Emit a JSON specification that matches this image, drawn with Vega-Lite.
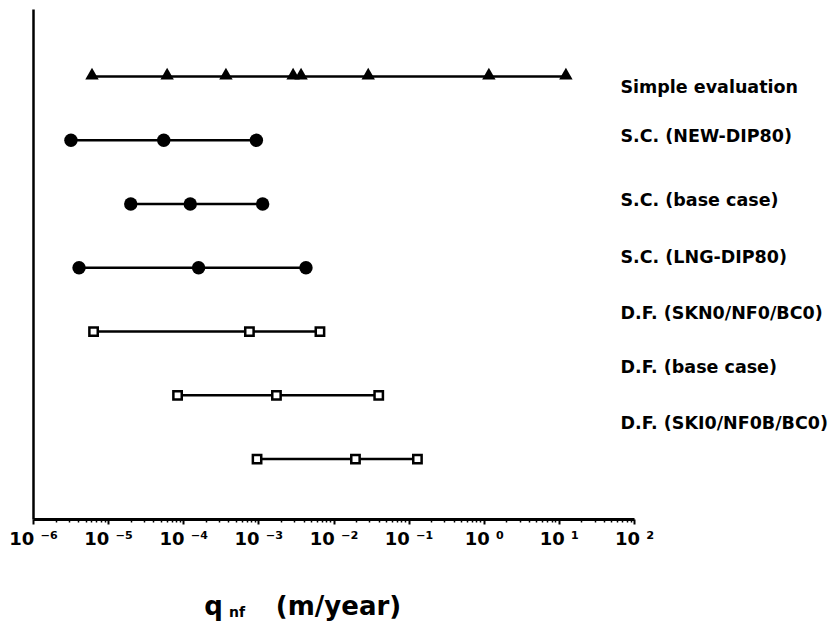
{
  "$schema": "https://vega.github.io/schema/vega-lite/v6.json",
  "width": 601,
  "height": 510,
  "autosize": "none",
  "padding": {"left": 33, "top": 9, "right": 201, "bottom": 108},
  "background": "white",
  "config": {
    "view": {"stroke": null},
    "font": "DejaVu Sans",
    "title": {"font": "DejaVu Sans", "fontWeight": "bold", "color": "black"}
  },
  "title": {
    "text": "nf",
    "orient": "bottom",
    "anchor": "start",
    "frame": "group",
    "dx": 196,
    "offset": -14,
    "fontSize": 14
  },
  "data": {
    "values": [
      {"row": "Simple evaluation", "method": "Simple", "q": 6.1e-6},
      {"row": "Simple evaluation", "method": "Simple", "q": 6.1e-5},
      {"row": "Simple evaluation", "method": "Simple", "q": 3.7e-4},
      {"row": "Simple evaluation", "method": "Simple", "q": 2.9e-3},
      {"row": "Simple evaluation", "method": "Simple", "q": 3.7e-3},
      {"row": "Simple evaluation", "method": "Simple", "q": 2.9e-2},
      {"row": "Simple evaluation", "method": "Simple", "q": 1.17},
      {"row": "Simple evaluation", "method": "Simple", "q": 12.4},
      {"row": "S.C. (NEW-DIP80)", "method": "S.C.", "q": 3.2e-6},
      {"row": "S.C. (NEW-DIP80)", "method": "S.C.", "q": 5.5e-5},
      {"row": "S.C. (NEW-DIP80)", "method": "S.C.", "q": 9.4e-4},
      {"row": "S.C. (base case)", "method": "S.C.", "q": 2.0e-5},
      {"row": "S.C. (base case)", "method": "S.C.", "q": 1.24e-4},
      {"row": "S.C. (base case)", "method": "S.C.", "q": 1.14e-3},
      {"row": "S.C. (LNG-DIP80)", "method": "S.C.", "q": 4.1e-6},
      {"row": "S.C. (LNG-DIP80)", "method": "S.C.", "q": 1.6e-4},
      {"row": "S.C. (LNG-DIP80)", "method": "S.C.", "q": 4.3e-3},
      {"row": "D.F. (SKN0/NF0/BC0)", "method": "D.F.", "q": 6.4e-6},
      {"row": "D.F. (SKN0/NF0/BC0)", "method": "D.F.", "q": 7.6e-4},
      {"row": "D.F. (SKN0/NF0/BC0)", "method": "D.F.", "q": 6.6e-3},
      {"row": "D.F. (base case)", "method": "D.F.", "q": 8.4e-5},
      {"row": "D.F. (base case)", "method": "D.F.", "q": 1.74e-3},
      {"row": "D.F. (base case)", "method": "D.F.", "q": 4.0e-2},
      {"row": "D.F. (SKI0/NF0B/BC0)", "method": "D.F.", "q": 9.6e-4},
      {"row": "D.F. (SKI0/NF0B/BC0)", "method": "D.F.", "q": 1.96e-2},
      {"row": "D.F. (SKI0/NF0B/BC0)", "method": "D.F.", "q": 0.131}
    ]
  },
  "resolve": {
    "axis": {"x": "independent", "y": "independent"}
  },
  "layer": [
    {
      "transform": [
        {"aggregate": [{"op": "min", "field": "q", "as": "lo"}, {"op": "max", "field": "q", "as": "hi"}], "groupby": ["row", "method"]}
      ],
      "mark": {"type": "rule", "color": "black"},
      "encoding": {
        "x": {
          "field": "lo",
          "type": "quantitative",
          "scale": {"type": "log", "domain": [1e-6, 100], "nice": false},
          "axis": {
            "orient": "bottom",
            "values": [1e-6, 1e-5, 1e-4, 1e-3, 1e-2, 1e-1, 1, 10, 100],
            "labelExpr": "['10 ⁻⁶','10 ⁻⁵','10 ⁻⁴','10 ⁻³','10 ⁻²','10 ⁻¹','10 ⁰','10 ¹','10 ²'][round(log(datum.value)/LN10)+6]",
            "domainColor": "black",
            "domainWidth": 3,
            "tickColor": "black",
            "tickWidth": 2,
            "tickSize": 5,
            "labelColor": "black",
            "labelFont": "DejaVu Sans",
            "labelFontWeight": "bold",
            "labelFontSize": 18,
            "labelPadding": 6,
            "labelFlush": false,
            "labelOverlap": false,
            "grid": false,
            "title": "q",
            "titleFont": "DejaVu Sans",
            "titleFontWeight": "bold",
            "titleFontSize": 26,
            "titleColor": "black",
            "titleX": 180,
            "titlePadding": 45
          }
        },
        "x2": {"field": "hi"},
        "strokeWidth": {
          "field": "method",
          "type": "nominal",
          "scale": {"domain": ["Simple", "S.C.", "D.F."], "range": [2.5, 2.5, 2]},
          "legend": null
        },
        "y": {
          "field": "row",
          "type": "nominal",
          "scale": {
            "type": "point",
            "padding": 1,
            "align": 0.53,
            "domain": ["Simple evaluation", "S.C. (NEW-DIP80)", "S.C. (base case)", "S.C. (LNG-DIP80)", "D.F. (SKN0/NF0/BC0)", "D.F. (base case)", "D.F. (SKI0/NF0B/BC0)"]
          },
          "axis": {"orient": "left", "labels": false, "ticks": false, "domain": true, "domainColor": "black", "domainWidth": 2.5, "title": null, "grid": false}
        }
      }
    },
    {
      "transform": [{"filter": "datum.method === 'Simple'"}],
      "mark": {"type": "point", "shape": "triangle-up", "filled": true, "color": "black", "size": 180, "opacity": 1, "yOffset": -3},
      "encoding": {
        "x": {
          "field": "q",
          "type": "quantitative",
          "axis": {
            "orient": "bottom",
            "values": [2e-6, 3e-6, 4e-6, 5e-6, 6e-6, 7e-6, 8e-6, 9e-6, 2e-5, 3e-5, 4e-5, 5e-5, 6e-5, 7e-5, 8e-5, 9e-5, 2e-4, 3e-4, 4e-4, 5e-4, 6e-4, 7e-4, 8e-4, 9e-4, 2e-3, 3e-3, 4e-3, 5e-3, 6e-3, 7e-3, 8e-3, 9e-3, 0.02, 0.03, 0.04, 0.05, 0.06, 0.07, 0.08, 0.09, 0.2, 0.3, 0.4, 0.5, 0.6, 0.7, 0.8, 0.9, 2, 3, 4, 5, 6, 7, 8, 9, 20, 30, 40, 50, 60, 70, 80, 90],
            "labels": false,
            "domain": false,
            "grid": false,
            "tickColor": "black",
            "tickWidth": 1.5,
            "tickSize": 3,
            "title": "(m/year)",
            "titleFont": "DejaVu Sans",
            "titleFontWeight": "bold",
            "titleFontSize": 26,
            "titleColor": "black",
            "titleX": 305,
            "titlePadding": 71
          }
        },
        "y": {
          "field": "row",
          "type": "nominal",
          "axis": {
            "orient": "right",
            "domain": false,
            "ticks": false,
            "grid": false,
            "labelPadding": -14,
            "labelAlign": "left",
            "labelBaseline": "middle",
            "labelOffset": {
              "condition": [
                {"test": "datum.value === 'Simple evaluation'", "value": 11},
                {"test": "datum.value === 'S.C. (NEW-DIP80)'", "value": -4},
                {"test": "datum.value === 'S.C. (base case)'", "value": -4},
                {"test": "datum.value === 'S.C. (LNG-DIP80)'", "value": -10},
                {"test": "datum.value === 'D.F. (SKN0/NF0/BC0)'", "value": -18},
                {"test": "datum.value === 'D.F. (base case)'", "value": -28}
              ],
              "value": -36
            },
            "labelColor": "black",
            "labelFont": "DejaVu Sans",
            "labelFontWeight": "bold",
            "labelFontSize": 17.5,
            "labelLimit": 0,
            "title": null
          }
        }
      }
    },
    {
      "transform": [{"filter": "datum.method === 'S.C.'"}],
      "mark": {"type": "point", "shape": "circle", "filled": true, "color": "black", "size": 180, "opacity": 1},
      "encoding": {
        "x": {"field": "q", "type": "quantitative", "axis": null},
        "y": {"field": "row", "type": "nominal", "axis": null}
      }
    },
    {
      "transform": [{"filter": "datum.method === 'D.F.'"}],
      "mark": {"type": "point", "shape": "square", "filled": false, "fill": "white", "stroke": "black", "strokeWidth": 2.5, "size": 70, "opacity": 1},
      "encoding": {
        "x": {"field": "q", "type": "quantitative", "axis": null},
        "y": {"field": "row", "type": "nominal", "axis": null}
      }
    }
  ]
}
